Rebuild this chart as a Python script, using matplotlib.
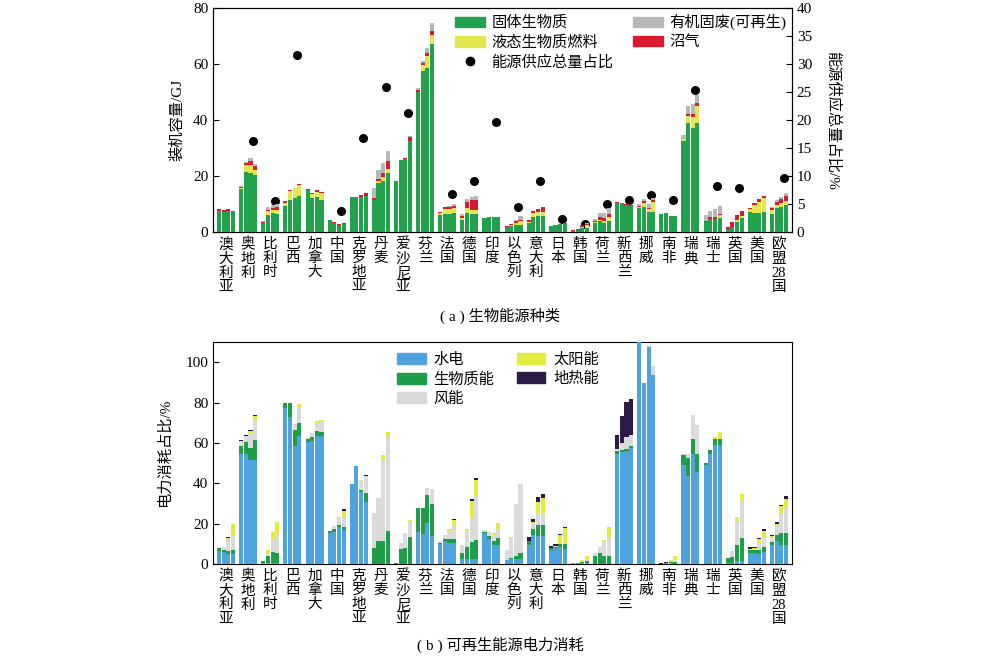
import re
import numpy as np
import matplotlib
matplotlib.use('Agg')
import matplotlib.pyplot as plt
from matplotlib.patches import Patch
from matplotlib.lines import Line2D

plt.rcParams['font.family'] = ['Liberation Serif', 'Noto Sans CJK SC']

countries = ['澳大利亚', '奥地利', '比利时', '巴西', '加拿大', '中国', '克罗地亚', '丹麦',
             '爱沙尼亚', '芬兰', '法国', '德国', '印度', '以色列', '意大利', '日本', '韩国',
             '荷兰', '新西兰', '挪威', '南非', '瑞典', '瑞士', '英国', '美国', '欧盟28国']

# (a) 装机容量/GJ, 4 bars per country: [b1, b2, b3, b4]
solid = [[7.6, 7.3, 7.6, 7.5], [15.2, 21.3, 21.2, 20.3], [3.1, 5.9, 6.8, 6.5], [9.2, 11.5, 12.2, 12.7],
         [15.1, 12.2, 12.5, 11.5], [4.4, 3.3, 2.5, 2.9], [12.4, 12.6, 12.5, 12.9], [11.3, 17.6, 18.2, 21.0],
         [18.1, 25.6, 25.9, 32.5], [49.9, 57.6, 58.7, 67.0], [6.1, 6.5, 6.4, 6.7], [4.3, 6.9, 6.3, 6.3],
         [4.9, 5.4, 5.5, 5.5], [1.7, 2.0, 2.6, 2.6], [3.3, 5.5, 5.8, 5.8], [2.1, 2.4, 2.7, 3.1],
         [0.5, 0.7, 1.5, 1.6], [3.1, 3.9, 3.1, 3.9], [10.5, 10.2, 9.7, 9.2], [8.5, 9.0, 7.0, 7.3],
         [6.4, 6.7, 5.7, 5.7], [32.5, 38.8, 37.3, 39.0], [3.6, 4.5, 4.5, 5.0], [1.0, 1.9, 3.7, 4.9],
         [7.0, 6.9, 6.9, 7.3], [6.4, 8.7, 9.0, 9.6]]
liquid = [[0, 0, 0, 0], [0.5, 2.6, 2.9, 2.0], [0, 1.5, 1.1, 1.4], [1.2, 3.1, 3.6, 4.0],
          [0, 1.2, 1.9, 2.3], [0, 0, 0, 0], [0, 0, 0, 0], [0, 0.6, 1.4, 1.5],
          [0, 0, 0, 0], [0, 1.9, 4.3, 3.5], [0.6, 1.6, 1.9, 1.9], [0.6, 1.5, 1.6, 1.6],
          [0, 0, 0, 0], [0, 0.5, 0.6, 1.2], [0.3, 1.4, 1.3, 1.3], [0, 0, 0, 0],
          [0, 0, 0.4, 0.8], [0.3, 0.5, 1.0, 1.6], [0, 0, 0, 0], [0.5, 1.2, 1.1, 3.5],
          [0, 0, 0, 0], [0.8, 2.6, 3.7, 6.0], [0, 0.3, 0.3, 0.9], [0, 0, 0.6, 0.8],
          [1.2, 2.8, 3.9, 4.8], [1.3, 1.0, 1.2, 1.5]]
biogas = [[0.6, 0.6, 0.6, 0], [0.3, 0.7, 1.4, 1.4], [0.5, 0.6, 0.6, 1.0], [0.7, 0.5, 0, 0.5],
          [0.4, 0.6, 0.7, 0.5], [0, 0.4, 0.5, 0.4], [0, 0, 0.6, 1.0], [0.7, 0.7, 1.3, 3.0],
          [0.2, 0.2, 0.4, 1.3], [0.8, 1.0, 1.0, 1.4], [0.3, 0.7, 0.7, 0.7], [0.8, 2.2, 3.5, 3.5],
          [0, 0, 0, 0], [0.4, 0.4, 0.6, 0.6], [0.6, 0.7, 1.2, 1.7], [0, 0, 0, 0],
          [0.2, 0.3, 0.5, 0.6], [0.5, 1.0, 1.0, 1.0], [0.3, 0.3, 0.3, 0.3], [0.4, 0.7, 0.6, 0.8],
          [0, 0, 0, 0], [0, 0.6, 1.2, 1.0], [0.3, 0.5, 0.6, 0.6], [0.7, 1.8, 1.8, 1.9],
          [0.5, 0.8, 0.9, 0.8], [0.9, 1.1, 1.5, 1.8]]
waste = [[0, 0, 0, 0], [0.3, 0.5, 0.8, 0.6], [0.2, 1.0, 1.2, 1.2], [0, 0, 0, 0],
         [0, 0, 0, 0], [0, 0, 0, 0], [0, 0, 0, 0], [3.6, 3.4, 3.7, 3.3],
         [0, 0, 0, 0.6], [0.6, 0.5, 1.6, 2.6], [0, 0, 0.4, 0.8], [0.6, 1.2, 1.2, 1.5],
         [0, 0, 0, 0], [0, 0, 0.4, 1.2], [0, 0, 0, 0], [0, 0, 0, 0],
         [0, 0, 0, 0.2], [0.9, 1.5, 1.8, 2.2], [0, 0, 0, 0], [0.6, 0.8, 1.2, 0.6],
         [0, 0, 0, 0], [1.3, 3.0, 3.5, 2.9], [2.2, 2.2, 2.7, 2.8], [0, 0, 0, 0],
         [0, 0, 0, 0], [0.3, 0.8, 0.9, 1.2]]
# 能源供应总量占比/% (right axis)
share = [np.nan, 16.3, 5.6, 31.7, np.nan, 3.7, 16.7, 25.9, 21.2, np.nan, 6.7, 9.1, 19.7,
         4.5, 9.1, 2.4, 1.4, 5.0, 5.7, 6.6, 5.8, 25.4, 8.2, 7.9, np.nan, 9.6]

# (b) 电力消耗占比/%
hydro = [[6.4, 5.9, 4.9, 4.9], [54.3, 54.3, 51.4, 51.7], [0.3, 0.3, 0.3, 0.3], [77.2, 72.8, 58.3, 63.4],
         [60.4, 60.7, 63.2, 63.2], [15.5, 16.0, 18.1, 16.8], [39.8, 48.6, 35.7, 30.5], [0, 0, 0, 0],
         [0, 0, 0, 0], [16.0, 14.8, 20.4, 13.8], [9.7, 11.4, 10.5, 10.2], [2.5, 2.5, 2.5, 2.5],
         [15.1, 12.3, 9.4, 9.4], [2.0, 2.3, 2.3, 2.5], [9.4, 14.3, 13.8, 13.8], [6.9, 7.7, 8.6, 7.4],
         [0.5, 0.5, 0.5, 0.5], [0.2, 0.2, 0.2, 0.2], [54.7, 55.5, 55.8, 57.4], [110, 89.7, 107.7, 93.8],
         [0.2, 0.3, 0.4, 0.2], [48.9, 43.6, 54.3, 45.6], [48.9, 54.7, 59.1, 59.1], [0.3, 0.3, 1.5, 1.5],
         [5.6, 5.3, 4.9, 6.1], [9.4, 11.4, 9.4, 9.4]]
bio = [[1.7, 0.8, 1.5, 2.0], [4.1, 6.1, 6.2, 9.5], [1.3, 3.8, 5.5, 5.2], [2.6, 6.9, 8.2, 6.4],
       [1.7, 2.2, 2.6, 2.1], [0.6, 1.3, 1.2, 1.3], [0, 0, 0.8, 4.7], [8.1, 11.4, 11.4, 16.3],
       [0.3, 7.3, 8.0, 13.6], [11.8, 13.0, 13.7, 15.7], [0.5, 0.8, 1.8, 2.1], [2.8, 5.7, 8.2, 9.4],
       [0.5, 1.5, 2.1, 3.3], [0, 0.5, 1.8, 2.8], [2.0, 2.8, 5.5, 5.5], [1.2, 0.9, 1.3, 2.5],
       [0, 0.2, 0.3, 0.8], [3.8, 5.1, 3.8, 3.9], [1.1, 1.1, 1.2, 0.9], [0, 0, 0, 0],
       [0, 0, 0.5, 1.0], [4.9, 8.9, 7.4, 9.1], [1.1, 1.6, 2.6, 2.6], [2.5, 3.3, 7.9, 11.2],
       [1.3, 1.6, 2.0, 2.1], [1.6, 2.9, 6.1, 6.1]]
wind = [[0, 1.5, 5.5, 7.1], [2.3, 3.0, 7.3, 9.9], [0, 1.5, 6.4, 9.9], [0, 0, 3.0, 7.9],
        [0.5, 2.0, 3.7, 5.0], [0, 1.5, 3.3, 5.3], [0, 0, 5.0, 8.3], [17.4, 21.5, 40.5, 46.3],
        [0, 2.9, 7.5, 7.4], [0, 0, 3.3, 7.5], [1.2, 2.1, 4.2, 6.5], [4.1, 8.3, 12.7, 22.2],
        [1.2, 1.8, 2.8, 4.1], [4.9, 10.4, 25.5, 34.5], [0, 3.0, 6.2, 6.1], [0, 0.3, 0.5, 0.4],
        [0, 0, 0.4, 1.0], [1.6, 3.3, 6.7, 9.4], [1.0, 3.3, 5.9, 5.4], [0, 0, 0.4, 4.5],
        [0, 0, 0.3, 1.0], [0.9, 2.2, 11.9, 14.4], [0, 0, 0.3, 0], [0, 3.0, 11.5, 18.1],
        [0.4, 0.4, 3.6, 5.3], [2.5, 5.0, 9.9, 12.8]]
solar = [[0, 0, 0.8, 5.6], [0, 0, 0.9, 2.0], [0, 1.3, 3.7, 5.4], [0, 0, 0, 1.6],
         [0, 0, 1.3, 1.1], [0, 0, 0.8, 2.9], [0, 0, 0, 0], [0, 0, 2.3, 2.7],
         [0, 0, 0, 0.7], [0, 0, 0, 0], [0, 0, 0.6, 2.9], [0, 0.6, 7.7, 7.7],
         [0, 0, 0.8, 3.6], [0, 0, 0, 0], [0, 0.8, 5.3, 7.5], [0, 0, 3.9, 7.3],
         [0, 0, 0.8, 1.7], [0, 0, 1.2, 4.6], [0, 0, 0, 0], [0, 0, 0, 0],
         [0, 0, 0.8, 1.8], [0, 0, 0, 0], [0, 0, 0.9, 3.6], [0, 0, 2.5, 4.1],
         [0, 0.4, 1.7, 3.0], [0.3, 0.5, 3.4, 4.1]]
geo = [[0, 0, 0.8, 0], [0.5, 0.6, 0.7, 0.6], [0, 0, 0, 0], [0, 0, 0, 0],
       [0, 0, 0, 0], [0, 0, 0, 0.7], [0, 0, 0, 0.6], [0, 0, 0, 0],
       [0, 0, 0, 0], [0, 0, 0, 0], [0, 0, 0, 0.5], [0, 0.4, 1.0, 0.8],
       [0, 0, 0, 0], [0, 0, 0, 0], [2.1, 1.3, 2.5, 2.0], [0.9, 0.8, 0.4, 0.5],
       [0, 0, 0, 0], [0, 0, 0, 0], [7.2, 13.2, 17.3, 18.1], [0, 0, 0, 0],
       [0.3, 0.5, 0, 0], [0, 0, 0, 0], [0, 0, 0, 0], [0, 0, 0, 0],
       [0.9, 0.9, 0.5, 0.8], [0.5, 0.8, 0.3, 1.3]]

c_solid, c_liquid, c_biogas, c_waste = '#22a14c', '#e0e84e', '#d81b2e', '#b9b7b8'
c_hydro, c_bio, c_wind, c_solar, c_geo = '#4fa3dc', '#1f9e4a', '#dcdbdb', '#e3eb3f', '#2b1b45'


def vlabel(s):
    return '\n'.join(re.findall(r'\d+|.', s))


def stacked(ax, series, colors):
    idx = np.arange(len(countries))
    offs = [-0.315, -0.105, 0.105, 0.315]
    arrs = [np.array(s, dtype=float) for s in series]
    for k in range(4):
        bottom = np.zeros(len(countries))
        for a, c in zip(arrs, colors):
            ax.bar(idx + offs[k], a[:, k], 0.185, bottom=bottom, color=c, linewidth=0, zorder=3)
            bottom = bottom + a[:, k]


fig = plt.figure(figsize=(10, 6.58), dpi=100)
idx = np.arange(len(countries))

# ---- (a)
ax = fig.add_axes([0.213, 0.6474, 0.579, 0.3404])
ax2 = ax.twinx()
stacked(ax, [solid, liquid, biogas, waste], [c_solid, c_liquid, c_biogas, c_waste])
ax2.scatter(idx + 0.21, share, s=30, color='black', zorder=2)
ax.set_zorder(ax2.get_zorder() + 1)
ax.patch.set_visible(False)
ax.set_xlim(-0.59, len(countries) - 0.41)
ax.set_ylim(0, 80)
ax2.set_ylim(0, 40)
ax.set_yticks([0, 20, 40, 60, 80])
ax2.set_yticks(range(0, 41, 5))
ax.set_xticks(idx)
ax.set_xticklabels([vlabel(c) for c in countries], fontsize=10.5, linespacing=1.1, va='top')
ax.tick_params(axis='x', length=0, pad=4)
ax.tick_params(axis='y', direction='in', length=4, labelsize=11)
ax2.tick_params(axis='y', direction='in', length=4, labelsize=11)
ax.set_ylabel('装机容量/GJ', fontsize=11, labelpad=6)
ax2.set_ylabel('能源供应总量占比/%', fontsize=11, rotation=270, labelpad=20)
handles = [Patch(color=c_solid), Patch(color=c_liquid),
           Line2D([], [], marker='o', color='black', linestyle='none', markersize=6),
           Patch(color=c_waste), Patch(color=c_biogas)]
labels = ['固体生物质', '液态生物质燃料', '能源供应总量占比', '有机固废(可再生)', '沼气']
ax.legend(handles, labels, ncol=2, frameon=False, fontsize=11, loc='upper left',
          bbox_to_anchor=(0.4, 1.02), handlelength=1.95, handleheight=0.7,
          columnspacing=1.3, labelspacing=0.35, handletextpad=0.4, borderaxespad=0.3)
fig.text(0.5, 0.512, '( a ) 生物能源种类', ha='center', fontsize=11)

# ---- (b)
bx = fig.add_axes([0.213, 0.1429, 0.579, 0.3374])
stacked(bx, [hydro, bio, wind, solar, geo], [c_hydro, c_bio, c_wind, c_solar, c_geo])
bx.set_xlim(-0.59, len(countries) - 0.41)
bx.set_ylim(0, 110)
bx.set_yticks([0, 20, 40, 60, 80, 100])
bx.set_xticks(idx)
bx.set_xticklabels([vlabel(c) for c in countries], fontsize=10.5, linespacing=1.1, va='top')
bx.tick_params(axis='x', length=0, pad=4)
bx.tick_params(axis='y', direction='in', length=4, labelsize=11)
bx.set_ylabel('电力消耗占比/%', fontsize=11, labelpad=10)
handles = [Patch(color=c_hydro), Patch(color=c_bio), Patch(color=c_wind),
           Patch(color=c_solar), Patch(color=c_geo)]
labels = ['水电', '生物质能', '风能', '太阳能', '地热能']
bx.legend(handles, labels, ncol=2, frameon=False, fontsize=11, loc='upper left',
          bbox_to_anchor=(0.3, 1.0), handlelength=1.85, handleheight=0.7,
          columnspacing=1.5, labelspacing=0.35, handletextpad=0.5, borderaxespad=0.3)
fig.text(0.5, 0.012, '( b ) 可再生能源电力消耗', ha='center', fontsize=11)

fig.savefig('out.png', dpi=100)
